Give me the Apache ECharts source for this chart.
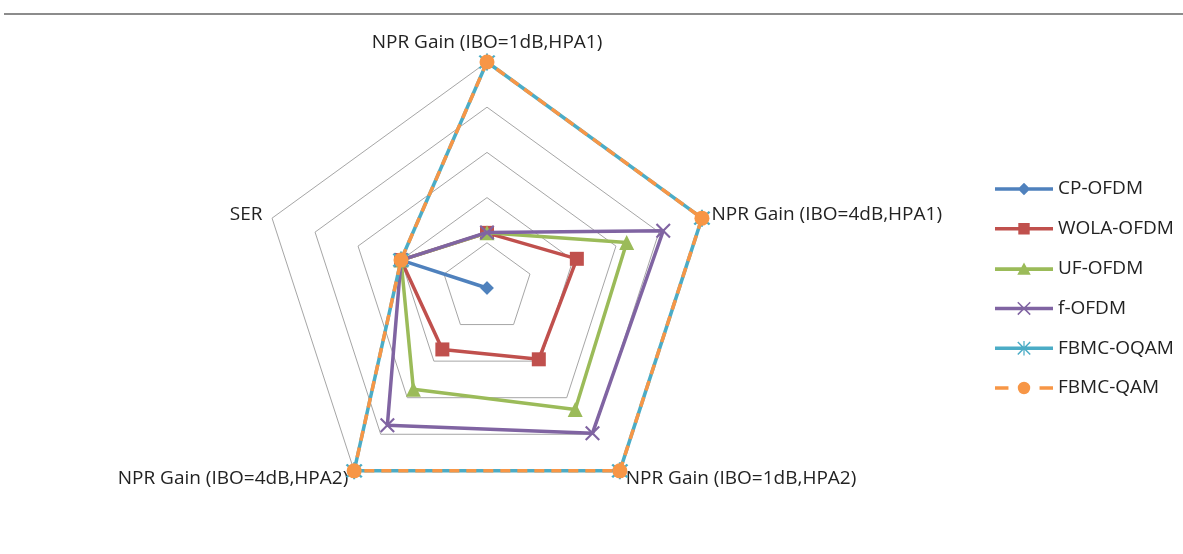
<!DOCTYPE html>
<html>
<head>
<meta charset="utf-8">
<script src="https://cdn.jsdelivr.net/npm/echarts@6/dist/echarts.min.js"></script>
<style>
html,body{margin:0;padding:0;background:#fff;}
#chart{width:1183px;height:554px;}
</style>
</head>
<body>
<div id="chart"></div>
<script>
// Categories in the reference's clockwise order, starting at the top
var categories = [
  'NPR Gain (IBO=1dB,HPA1)',
  'NPR Gain (IBO=4dB,HPA1)',
  'NPR Gain (IBO=1dB,HPA2)',
  'NPR Gain (IBO=4dB,HPA2)',
  'SER'
];
var seriesNames = ['CP-OFDM', 'WOLA-OFDM', 'UF-OFDM', 'f-OFDM', 'FBMC-OQAM', 'FBMC-QAM'];
var cpOfdm   = [0, 0, 0, 0, 2];
var wolaOfdm = [1.22, 2.09, 1.95, 1.68, 2];
var ufOfdm   = [1.22, 3.25, 3.32, 2.77, 2];
var fOfdm    = [1.23, 4.1, 3.97, 3.75, 2];
var fbmcOqam = [5, 5, 5, 5, 2];
var fbmcQam  = [5, 5, 5, 5, 2];
var axisMax = 5;

// ECharts lays radar indicators out counter-clockwise; reorder so the picture runs clockwise
var order = [0, 4, 3, 2, 1];
function reorder(arr) { return order.map(function (i) { return arr[i]; }); }

var colors = ['#4F81BD', '#C0504D', '#9BBB59', '#8064A2', '#4BACC6', '#F79646'];

var xPath = 'path://M0 1L1 0L10 9L9 10Z M9 0L10 1L1 10L0 9Z';
var starPath = 'path://M0 1L1 0L10 9L9 10Z M9 0L10 1L1 10L0 9Z M4.4 -1H5.6V11H4.4Z';

var lineRect = 'M0 5.3H56V8.7H0Z';
var legendIcons = [
  'path://' + lineRect + ' M28 1L34 7L28 13L22 7Z',
  'path://' + lineRect + ' M22.5 1.5H33.5V12.5H22.5Z',
  'path://' + lineRect + ' M28 0.5L34.5 12.5L21.5 12.5Z',
  'path://' + lineRect + ' M22.5 0.5L34.5 12.5L33.5 13.5L21.5 1.5Z M34.5 1.5L22.5 13.5L21.5 12.5L33.5 0.5Z',
  'path://' + lineRect + ' M22.5 0.5L34.5 12.5L33.5 13.5L21.5 1.5Z M34.5 1.5L22.5 13.5L21.5 12.5L33.5 0.5Z M27.4 0H28.6V14H27.4Z',
  'path://M0 5.3H13V8.7H0Z M43 5.3H56V8.7H43Z M22 7A6 6 0 1 1 34 7A6 6 0 1 1 22 7Z'
];

var dataSets = [cpOfdm, wolaOfdm, ufOfdm, fOfdm, fbmcOqam, fbmcQam];
var symbols = ['diamond', 'rect', 'triangle', xPath, starPath, 'circle'];
var symbolSizes = [13, 14, 15, 15, 17, 15];

var series = dataSets.map(function (d, i) {
  return {
    type: 'radar',
    name: seriesNames[i],
    symbol: symbols[i],
    symbolSize: symbolSizes[i],
    z: 2 + i,
    lineStyle: {
      color: colors[i],
      width: 3.5,
      type: i === 5 ? [10, 7] : 'solid',
      cap: 'butt'
    },
    itemStyle: { color: colors[i], borderWidth: 0 },
    data: [{ value: reorder(d), name: seriesNames[i] }]
  };
});

var chart = echarts.init(document.getElementById('chart'), null, { renderer: 'canvas' });
chart.setOption({
  animation: false,
  backgroundColor: '#ffffff',
  color: colors,
  textStyle: { fontFamily: 'Open Sans' },
  graphic: [{
    type: 'line',
    shape: { x1: 4, y1: 14, x2: 1183, y2: 14 },
    style: { stroke: '#8c8c8c', lineWidth: 2 },
    silent: true
  }],
  legend: {
    orient: 'vertical',
    left: 990,
    top: 174,
    itemWidth: 58,
    itemHeight: 16,
    itemGap: 19.8,
    symbolKeepAspect: true,
    selectedMode: false,
    textStyle: { fontSize: 19, color: '#222', fontFamily: 'Open Sans', lineHeight: 20 },
    data: seriesNames.map(function (n, i) {
      return { name: n, icon: legendIcons[i], itemStyle: { color: colors[i] } };
    })
  },
  radar: {
    center: [487, 288],
    radius: 226,
    shape: 'polygon',
    splitNumber: 5,
    startAngle: 90,
    nameGap: 10,
    axisName: { color: '#222', fontSize: 19, fontFamily: 'Open Sans' },
    indicator: reorder(categories).map(function (c) { return { name: c, min: 0, max: axisMax }; }),
    axisLine: { show: false },
    axisTick: { show: false },
    axisLabel: { show: false },
    splitLine: { lineStyle: { color: '#a6a6a6', width: 1 } },
    splitArea: { show: false }
  },
  series: series
});
</script>
</body>
</html>
